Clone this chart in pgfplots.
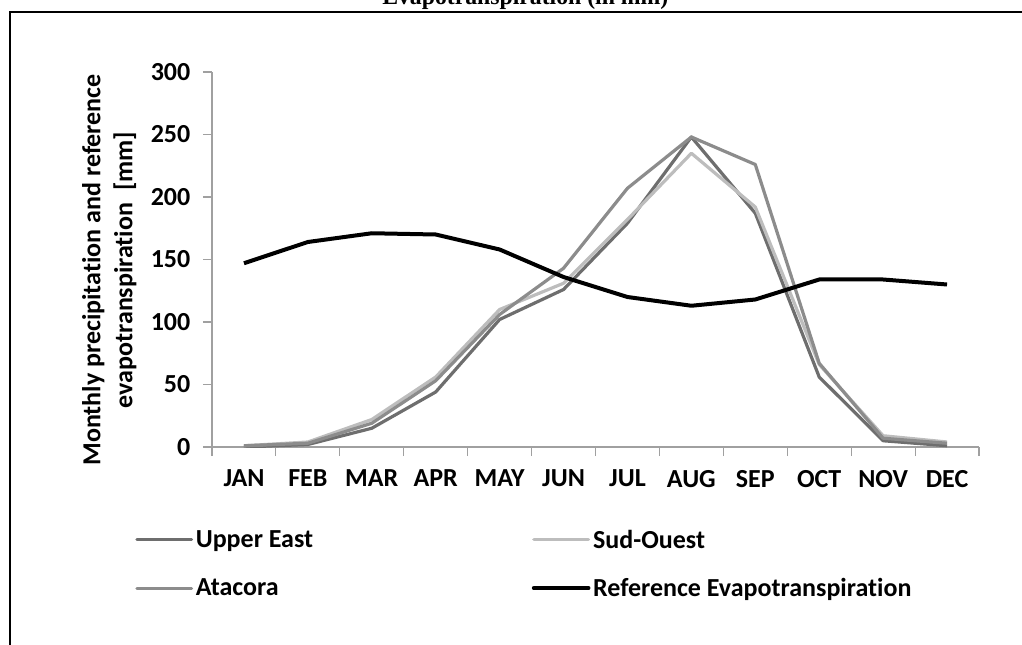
\documentclass[border=0pt]{standalone}
\usepackage{pgfplots}
\pgfplotsset{compat=1.18}
\usepackage{fontspec}
\setmainfont{Carlito}[Ligatures=NoCommon]
\newfontfamily\titlefont{Liberation Serif}
\definecolor{uecol}{HTML}{6E6E6E}
\definecolor{socol}{HTML}{BDBDBD}
\definecolor{atcol}{HTML}{8C8C8C}
\definecolor{axgray}{HTML}{A0A0A0}
\pgfplotstableread{
m UE SO AT ET
1 0 1 1 147
2 2 4 3 164
3 15 22 19 171
4 44 56 53 170
5 102 110 106 158
6 126 131 143 136
7 179 182 207 120
8 248 235 248 113
9 187 192 226 118
10 56 66 67 134
11 5 9 7 134
12 1 4 3 130
}\datatable
\begin{document}
\begin{tikzpicture}
\useasboundingbox (0,0) rectangle (766.5pt,-483.75pt);
\begin{scope}
\clip (0,0) rectangle (766.5pt,-483.75pt);
\node[anchor=base, inner sep=0pt] at (394pt,-3.5pt) {\titlefont\fontsize{17.8}{20}\selectfont\bfseries Evapotranspiration (in mm)};
\end{scope}
\draw[line width=1.1pt] (7.5pt,-483.75pt) -- (7.5pt,-9pt) -- (766.5pt,-9pt);
\begin{axis}[
  at={(159pt,-335.25pt)}, anchor=south west,
  scale only axis, width=575.25pt, height=281.25pt,
  xmin=0.5, xmax=12.5, ymin=0, ymax=300,
  axis x line*=bottom, axis y line*=left,
  axis line style={axgray, line width=0.8pt, -},
  xtick={0.5,1.5,...,12.5},
  x tick label as interval,
  xticklabels={JAN,FEB,MAR,APR,MAY,JUN,JUL,AUG,SEP,OCT,NOV,DEC},
  ytick={0,50,...,300},
  tick align=outside,
  major tick length=6.75pt,
  tick style={axgray, line width=0.8pt},
  /pgf/number format/assume math mode=true,
  ticklabel style={font=\fontsize{19.5}{23}\selectfont\bfseries},
  xticklabel style={yshift=-7pt},
  yticklabel style={xshift=-6pt},
  ylabel={Monthly precipitation and reference\\evapotranspiration\ \ [mm]},
  ylabel style={align=center, font=\fontsize{19.5}{24}\selectfont\bfseries, at={(axis description cs:-0.134,0.472)}, anchor=center},
  legend columns=2,
  legend cell align=left,
  legend image code/.code={\draw[#1, line cap=round] (0pt,0pt) -- (41pt,0pt);},
  legend style={draw=none, fill=none, inner sep=0pt,
    font=\fontsize{19.5}{23}\selectfont\bfseries,
    nodes={inner sep=2pt},
    row sep=17pt,
    /tikz/every even column/.append style={column sep=162pt},
    at={(axis description cs:-0.1004,-0.312)}, anchor=west},
]
\addplot[uecol, line width=2.4pt, line join=round] table[x=m, y=UE] {\datatable};
\addlegendentry{Upper East}
\addplot[socol, line width=2.4pt, line join=round] table[x=m, y=SO] {\datatable};
\addlegendentry{Sud-Ouest}
\addplot[atcol, line width=2.4pt, line join=round] table[x=m, y=AT] {\datatable};
\addlegendentry{Atacora}
\addplot[black, line width=3pt, line join=round] table[x=m, y=ET] {\datatable};
\addlegendentry{Reference Evapotranspiration}
\end{axis}
\end{tikzpicture}
\end{document}
